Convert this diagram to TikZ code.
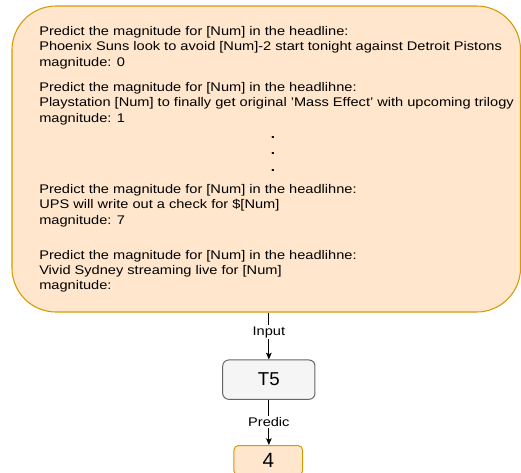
\documentclass[tikz,border=0pt]{standalone}
\usepackage{fontspec}
\setmainfont{Liberation Sans}[FakeStretch=1.165]
\newfontfamily\boxfont{Liberation Sans}
\usetikzlibrary{arrows.meta}

\definecolor{promptfill}{HTML}{FFE6CC}
\definecolor{promptline}{HTML}{D79B00}
\definecolor{modelfill}{HTML}{F5F5F5}
\definecolor{modelline}{HTML}{666666}

% one prompt example: lines stacked, baseline of the node on the first line
\newcommand\promptlines[1]{\begin{tabular}[t]{@{}l@{}}#1\end{tabular}}

\begin{document}
\begin{tikzpicture}[x=0.75pt,y=-0.75pt,
  promptbox/.style={draw=promptline, fill=promptfill, line width=0.8pt,
    rounded corners=33pt, minimum width=381.4pt, minimum height=229.5pt, inner sep=0pt},
  example/.style={anchor=base west, inner sep=0pt,
    font=\fontsize{9.4pt}{11.6pt}\selectfont},
  ellipsis/.style={anchor=base, inner sep=0pt,
    font=\fontsize{9.8pt}{12.4pt}\selectfont\bfseries},
  modelbox/.style={draw=modelline, fill=modelfill, line width=0.75pt,
    rounded corners=4.5pt, minimum width=69.2pt, minimum height=29.5pt,
    inner sep=0pt, font=\boxfont\fontsize{14pt}{16pt}\selectfont},
  outbox/.style={draw=promptline, fill=promptfill, line width=0.75pt,
    rounded corners=3.4pt, minimum width=51.4pt, minimum height=22.5pt,
    inner sep=0pt, font=\boxfont\fontsize{15.5pt}{18pt}\selectfont},
  conn/.style={draw=black, line width=0.75pt, -{Stealth[length=5pt,width=4.2pt,inset=1pt]}},
  flowlabel/.style={fill=white, inner sep=1pt, text=black,
    font=\fontsize{9.4pt}{11pt}\selectfont},
]
\useasboundingbox (0,0) rectangle (521,472);
\clip (0,0) rectangle (521,472);

% few-shot prompt
\node[promptbox] (prompt) at (266.25,159) {};

\node[example] (ex1) at (39,35.5) {\promptlines{%
  Predict the magnitude for [Num] in the headline:\\
  Phoenix Suns look to avoid [Num]-2 start tonight against Detroit Pistons\\
  magnitude: 0}};
\node[example] (ex2) at (39,91.5) {\promptlines{%
  Predict the magnitude for [Num] in the headlihne:\\
  Playstation [Num] to finally get original 'Mass Effect' with upcoming trilogy\\
  magnitude: 1}};
\node[ellipsis] (dots) at (273,138) {\promptlines{.\\.\\.}};
\node[example] (ex3) at (39,193.5) {\promptlines{%
  Predict the magnitude for [Num] in the headlihne:\\
  UPS will write out a check for \$[Num]\\
  magnitude: 7}};
\node[example] (query) at (39,259) {\promptlines{%
  Predict the magnitude for [Num] in the headlihne:\\
  Vivid Sydney streaming live for [Num]\\
  magnitude:}};

% model and its output
\node[modelbox] (t5) at (268.85,379.65) {T5};
\node[outbox] (out) at (268.25,460.5) {4};

\draw[conn] (prompt.south -| t5.north) -- node[flowlabel, pos=0.42] {Input} (t5.north);
\draw[conn] (t5.south) -- node[flowlabel, pos=0.5] {Predic} (t5.south |- out.north);
\end{tikzpicture}
\end{document}
